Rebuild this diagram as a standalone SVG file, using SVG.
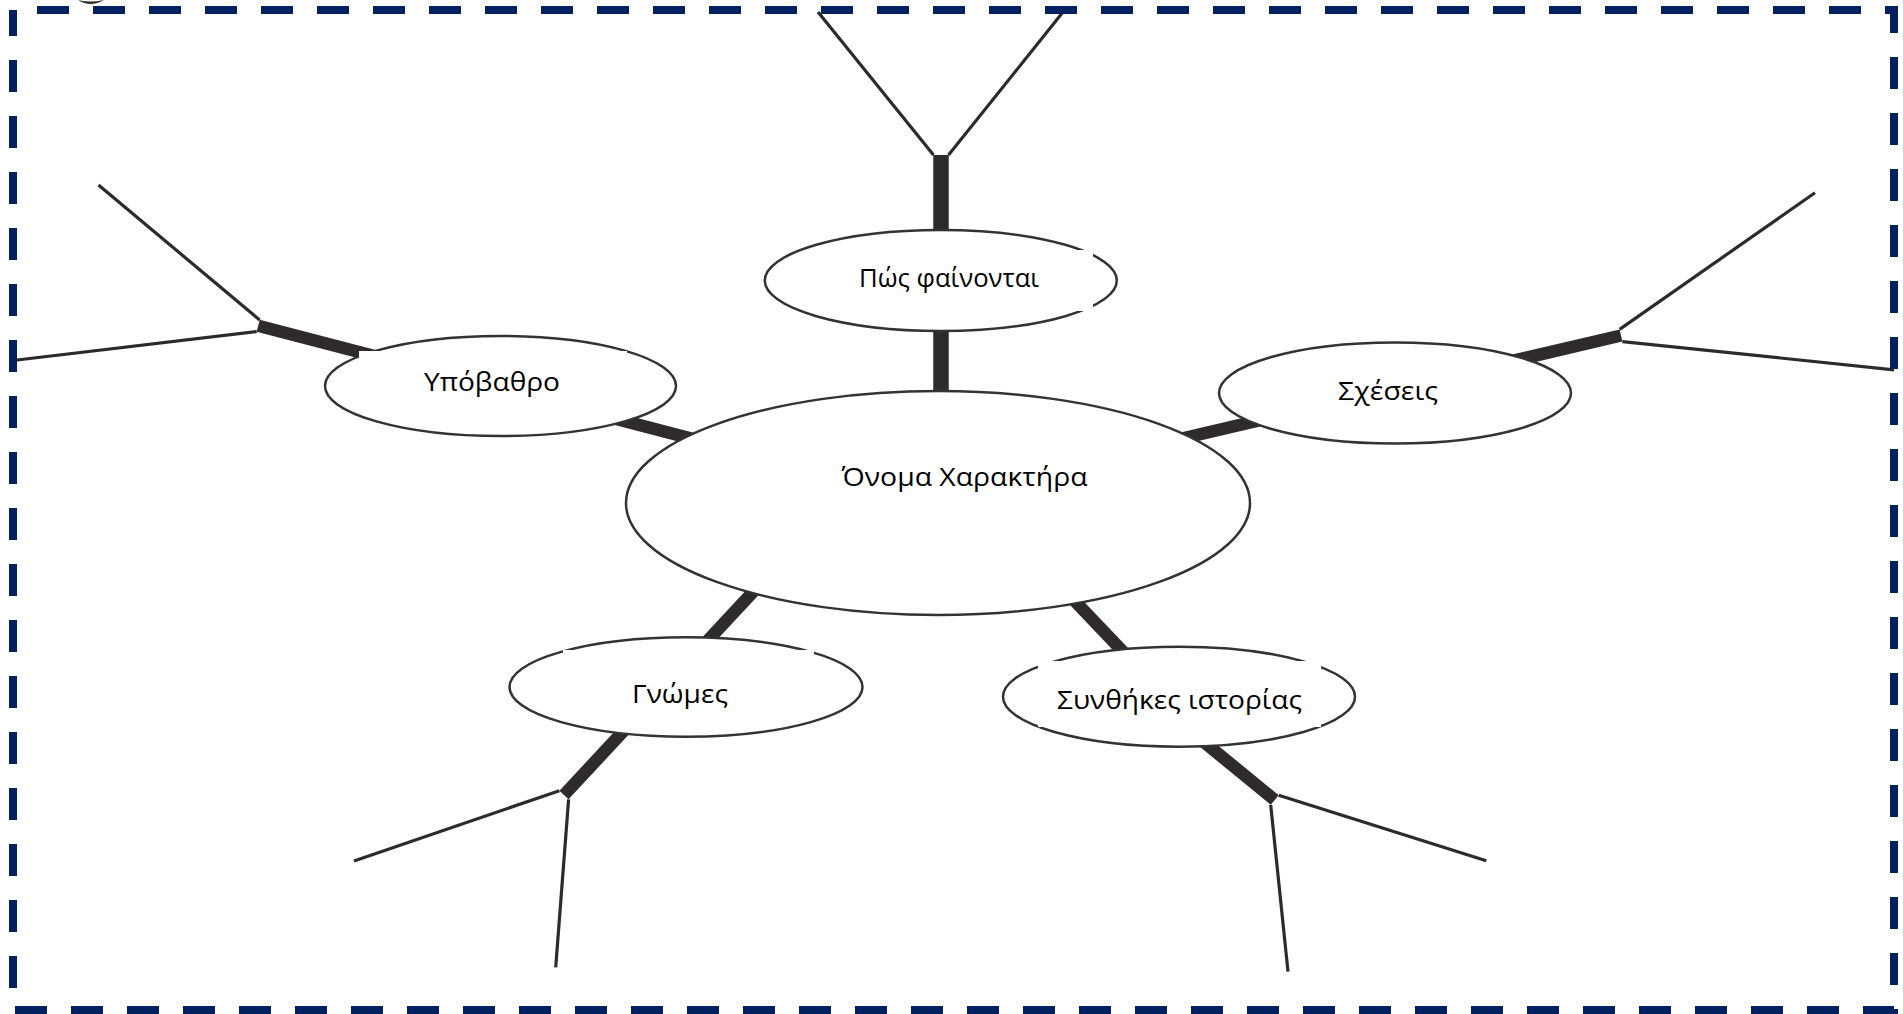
<svg xmlns="http://www.w3.org/2000/svg" width="1903" height="1014" viewBox="0 0 1903 1014">
  <style>
    .thick { stroke: #2f2b2b; stroke-width: 12.5; stroke-linecap: butt; fill: none; }
    .stem { stroke: #2f2b2b; stroke-width: 15.5; stroke-linecap: butt; fill: none; }
    .thin { stroke: #2d2a2a; stroke-width: 3.2; stroke-linecap: butt; fill: none; }
    .bubble { fill: #ffffff; stroke: #333333; stroke-width: 2.5; }
    .box { fill: #ffffff; }
    .label { font-family: "Open Sans", "Noto Sans", "Liberation Sans", sans-serif; font-size: 25px; fill: #000000; text-anchor: middle; }
    .frame { fill: none; stroke: #002060; stroke-width: 8; stroke-dasharray: 32 24; stroke-dashoffset: 32; }
  </style>

  <rect x="0" y="0" width="1903" height="1014" fill="#ffffff"/>

  <!-- fragment clipped by the top edge -->
  <path d="M78 0 Q90 8 104 0 Q90 3 78 0 Z" fill="#2a2a2a"/>

  <!-- branches: thick stems into the bubbles, thin forks at the ends -->
  <g id="connectors">
    <!-- top -->
    <line class="stem" x1="941" y1="155" x2="941" y2="420"/>
    <line class="thin" x1="933.5" y1="155" x2="818" y2="12"/>
    <line class="thin" x1="948.5" y1="155" x2="1063" y2="12"/>

    <!-- upper left -->
    <line class="thick" x1="258.2" y1="325.8" x2="720" y2="446"/>
    <line class="thin" x1="259.7" y1="320" x2="98.5" y2="185"/>
    <line class="thin" x1="256.7" y1="331.6" x2="13" y2="360.5"/>

    <!-- upper right -->
    <line class="thick" x1="1150" y1="446" x2="1621" y2="335.5"/>
    <line class="thin" x1="1619.6" y1="329.4" x2="1815" y2="192.7"/>
    <line class="thin" x1="1622.4" y1="341.6" x2="1894" y2="369.8"/>

    <!-- lower left -->
    <line class="thick" x1="768.3" y1="575.4" x2="564" y2="795"/>
    <line class="thin" x1="559.4" y1="790.7" x2="354" y2="861"/>
    <line class="thin" x1="568.6" y1="799.3" x2="555.7" y2="967.3"/>

    <!-- lower right -->
    <line class="thick" x1="1060" y1="585.5" x2="1150" y2="680"/>
    <line class="thick" x1="1180.2" y1="722.6" x2="1274.7" y2="800"/>
    <line class="thin" x1="1278.7" y1="795.2" x2="1486.3" y2="860.7"/>
    <line class="thin" x1="1270.7" y1="804.8" x2="1288" y2="971.7"/>
  </g>

  <g id="node-character">
    <ellipse class="bubble" cx="938" cy="503" rx="312" ry="112"/>
    <text class="label" x="964.5" y="486" textLength="246" lengthAdjust="spacingAndGlyphs">Όνομα Χαρακτήρα</text>
  </g>

  <g id="node-appearance">
    <ellipse class="bubble" cx="940.8" cy="280.5" rx="176" ry="50.5"/>
    <rect class="box" x="805" y="250" width="288" height="61"/>
    <text class="label" x="949" y="287" textLength="180" lengthAdjust="spacingAndGlyphs">Πώς φαίνονται</text>
  </g>

  <g id="node-background">
    <ellipse class="bubble" cx="500.5" cy="386" rx="175.5" ry="50"/>
    <rect class="box" x="359" y="351" width="268" height="60"/>
    <text class="label" x="492" y="391" textLength="136" lengthAdjust="spacingAndGlyphs">Υπόβαθρο</text>
  </g>

  <g id="node-relations">
    <ellipse class="bubble" cx="1395" cy="393" rx="176" ry="50.5"/>
    <text class="label" x="1388" y="400" textLength="100" lengthAdjust="spacingAndGlyphs">Σχέσεις</text>
  </g>

  <g id="node-opinions">
    <ellipse class="bubble" cx="686" cy="687" rx="176.5" ry="49.7"/>
    <rect class="box" x="563" y="650" width="251" height="64"/>
    <text class="label" x="680" y="703" textLength="96" lengthAdjust="spacingAndGlyphs">Γνώμες</text>
  </g>

  <g id="node-circumstances">
    <ellipse class="bubble" cx="1179" cy="696.7" rx="176" ry="50"/>
    <rect class="box" x="1038" y="661" width="283" height="66"/>
    <text class="label" x="1179.5" y="709" textLength="245" lengthAdjust="spacingAndGlyphs">Συνθήκες ιστορίας</text>
  </g>

  <!-- dashed frame -->
  <rect class="frame" x="13" y="10" width="1881" height="1000"/>
</svg>
